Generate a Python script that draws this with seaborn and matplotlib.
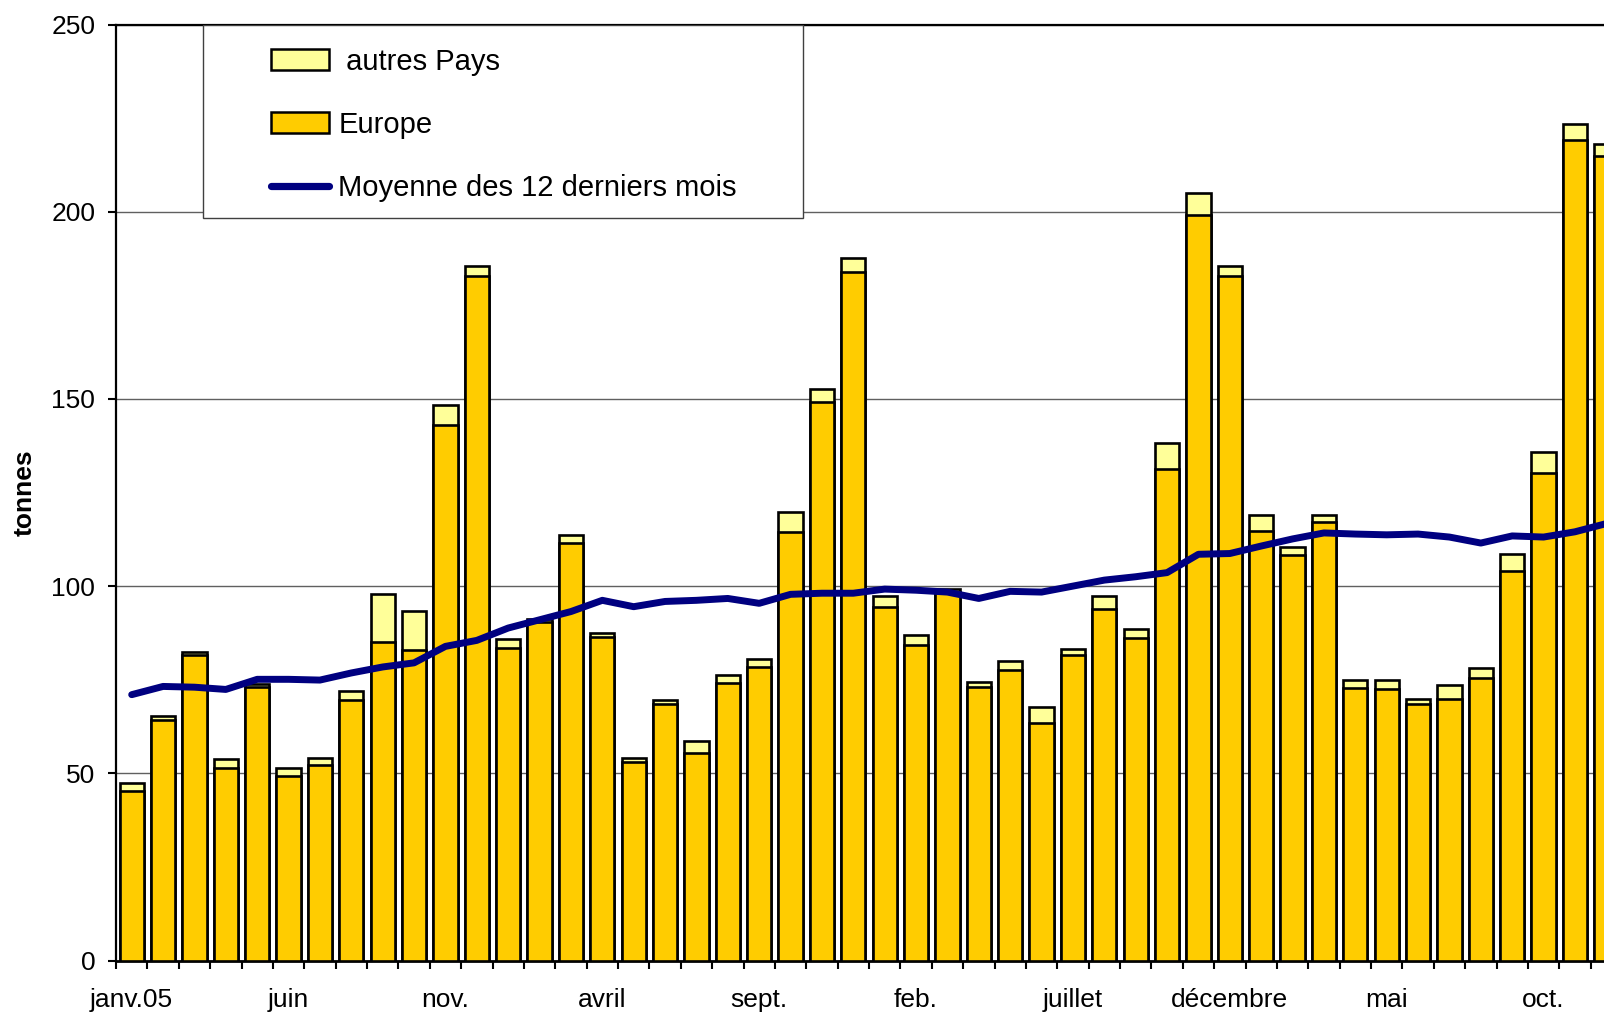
import numpy as np
import pandas as pd
import matplotlib
matplotlib.use("Agg")
import matplotlib.pyplot as plt
from matplotlib.patches import Patch, Rectangle
from matplotlib.lines import Line2D
import seaborn as sns

# ---- data ----
europe = [45.4, 64.2, 81.7, 51.4, 73.0, 49.2, 52.2, 69.7, 85.2, 82.8,
          142.9, 182.8, 83.6, 90.4, 111.5, 86.3, 53.0, 68.6, 55.5, 74.0,
          78.4, 114.5, 149.2, 183.9, 94.3, 84.2, 98.4, 73.0, 77.6, 63.4,
          81.7, 94.0, 86.1, 131.4, 199.2, 182.8, 114.8, 108.2, 117.2, 72.7,
          72.4, 68.6, 69.9, 75.4, 104.1, 130.3, 219.1, 215.0]
autres = [2.1, 1.1, 0.8, 2.4, 0.8, 2.2, 1.9, 2.2, 12.6, 10.6,
          5.5, 2.7, 2.2, 0.9, 2.2, 1.1, 1.1, 1.1, 3.2, 2.2,
          2.2, 5.4, 3.5, 3.8, 3.0, 2.7, 0.8, 1.3, 2.4, 4.4,
          1.6, 3.3, 2.4, 6.9, 5.7, 2.7, 4.1, 2.2, 1.7, 2.2,
          2.5, 1.3, 3.6, 2.7, 4.6, 5.5, 4.4, 3.0]
moyenne = [71.0, 73.2, 73.0, 72.4, 75.1, 75.1, 74.9, 76.8, 78.4, 79.5,
           83.9, 85.5, 88.8, 91.0, 93.2, 96.2, 94.5, 95.9, 96.2, 96.7,
           95.4, 97.8, 98.1, 98.1, 99.2, 98.9, 98.4, 96.7, 98.6, 98.4,
           100.0, 101.6, 102.5, 103.6, 108.5, 108.7, 110.7, 112.6, 114.2, 113.9,
           113.7, 113.9, 113.1, 111.5, 113.4, 113.1, 114.5, 116.7]
tick_labels = ["janv.05", "juin", "nov.", "avril", "sept.", "feb.",
               "juillet", "décembre", "mai", "oct."]
tick_step = 5
legend_labels = [" autres Pays", "Europe", "Moyenne des 12 derniers mois"]
ylabel = "tonnes"

# ---- styling ----
sns.set_style("white")
plt.rcParams["font.family"] = ["Liberation Sans", "DejaVu Sans"]
plt.rcParams["text.color"] = "black"
plt.rcParams["axes.labelcolor"] = "black"
plt.rcParams["xtick.color"] = "black"
plt.rcParams["ytick.color"] = "black"

C_EUROPE = "#FFCC00"
C_AUTRES = "#FFFF99"
C_LINE = "#000080"

n = len(europe)
df = pd.DataFrame({
    "mois": np.arange(n),
    "europe": europe,
    "total": np.array(europe) + np.array(autres),
    "moyenne": moyenne,
})

fig = plt.figure(figsize=(16.04, 10.14), dpi=100)
ax = fig.add_axes([116 / 1604, 53.5 / 1014, 1506 / 1604, 936 / 1014])

bar_kw = dict(edgecolor="black", linewidth=1.9, width=0.77, saturation=1, ax=ax)
sns.barplot(data=df, x="mois", y="total", color=C_AUTRES, zorder=2, **bar_kw)
sns.barplot(data=df, x="mois", y="europe", color=C_EUROPE, zorder=3, **bar_kw)
sns.lineplot(data=df, x="mois", y="moyenne", color=C_LINE, linewidth=5.0,
             zorder=4, ax=ax, solid_capstyle="round", solid_joinstyle="round")

ax.set_xlim(-0.5, n - 0.5)
ax.set_ylim(0, 250)

# y axis
ax.set_yticks(np.arange(0, 251, 50))
ax.tick_params(axis="y", direction="out", length=6, width=1.5, pad=9,
               labelsize=19, left=True, colors="black")
ax.yaxis.grid(True, color="#606060", linewidth=1.0, zorder=0)
ax.xaxis.grid(False)
ax.set_axisbelow(True)

# x axis: tick marks between months, labels under months
ax.set_xticks(np.arange(-0.5, n, 1.0))
ax.set_xticklabels([])
ax.tick_params(axis="x", which="major", direction="out", length=6, width=1.5,
               bottom=True, colors="black")
lab_pos = np.arange(0, n, tick_step)[:len(tick_labels)]
ax.set_xticks(lab_pos, minor=True)
ax.set_xticklabels(tick_labels, minor=True)
ax.tick_params(axis="x", which="minor", length=0, pad=20, labelsize=19,
               colors="black")
ax.set_xlabel("")

ax.set_ylabel(ylabel, fontsize=19, fontweight="bold", color="black")
ax.yaxis.set_label_coords((25 - 116) / 1506, 0.5)
ax.yaxis.label.set_verticalalignment("center")

for side in ["left", "bottom", "top"]:
    ax.spines[side].set_visible(True)
    ax.spines[side].set_color("black")
ax.spines["left"].set_linewidth(1.6)
ax.spines["bottom"].set_linewidth(2.0)
ax.spines["top"].set_linewidth(1.6)
ax.spines["right"].set_visible(False)

# legend frame and legend
frame = Rectangle((0.058, 0.793), 0.398, 0.207, transform=ax.transAxes,
                  facecolor="white", edgecolor="#404040", linewidth=1.0,
                  zorder=5)
ax.add_patch(frame)
handles = [
    Patch(facecolor=C_AUTRES, edgecolor="black", linewidth=1.8),
    Patch(facecolor=C_EUROPE, edgecolor="black", linewidth=1.8),
    Line2D([0], [0], color=C_LINE, linewidth=5.2, solid_capstyle="round"),
]
leg = ax.legend(handles, legend_labels, loc="upper left",
                bbox_to_anchor=(0.103, 0.975), frameon=False, fontsize=21,
                borderpad=0, borderaxespad=0, labelspacing=1.2,
                handlelength=2.0, handleheight=0.7, handletextpad=0.3)
for t in leg.get_texts():
    t.set_color("black")
leg.set_zorder(6)

fig.savefig("out.png", dpi=100)
